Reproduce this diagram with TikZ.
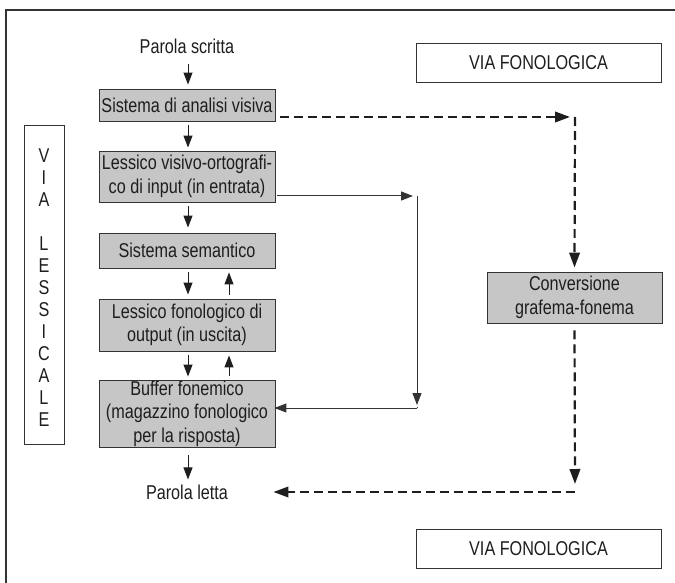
\documentclass[tikz,border=0pt]{standalone}
\usepackage{fontspec}
\setmainfont{Liberation Sans}[FakeStretch=0.81]
\usetikzlibrary{arrows.meta}
\definecolor{boxgray}{HTML}{C6C6C6}
\definecolor{ink}{HTML}{1E1E1E}
\definecolor{edge}{HTML}{333333}
\begin{document}
\begin{tikzpicture}[x=1pt,y=-1pt,
  every node/.style={text=ink,font=\fontsize{20}{23.5}\selectfont,inner sep=0pt},
  procbox/.style={draw=edge,line width=0.9pt,fill=boxgray,minimum width=176pt,align=center},
  labelbox/.style={draw=edge,line width=0.9pt,fill=white,align=center},
  tip/.style={-{Triangle[length=12pt,width=9pt]}},
  bigtip/.style={-{Triangle[length=15pt,width=10.5pt]}},
  arr/.style={tip,draw=ink,line width=1pt},
  solarr/.style={tip,draw=edge,line width=1pt},
  dasharr/.style={bigtip,draw=ink,line width=2.2pt,dash pattern=on 9pt off 5pt}]
\useasboundingbox (0,0) rectangle (675,583);

% frame (top and left edges)
\draw[edge,line width=1.2pt] (6,583) -- (6,10) -- (675,10);

% lexical route
\node (ps) at (187,46) {Parola scritta};
\node[procbox,minimum height=32pt] (b1) at (187,105) {Sistema di analisi visiva};
\node[procbox,minimum height=51pt] (b2) at (187,176.5) {Lessico visivo-ortografi-\\co di input (in entrata)};
\node[procbox,minimum height=35pt] (b3) at (187,250.5) {Sistema semantico};
\node[procbox,minimum height=52pt] (b4) at (187,325) {Lessico fonologico di\\output (in uscita)};
\node[procbox,minimum height=67pt] (b5) at (187,413.5) {Buffer fonemico\\(magazzino fonologico\\per la risposta)};
\node (pl) at (187,492) {Parola letta};

\node[labelbox,minimum width=40pt,minimum height=319pt] (vl) at (44,284.5) {};
\node[align=center,font=\fontsize{20}{22}\selectfont] (vlt) at (44,288)
  {V\\I\\A\\[22pt]L\\E\\S\\S\\I\\C\\A\\L\\E};

% phonological route
\node[labelbox,minimum width=245pt,minimum height=39pt] (vf1) at (538.5,62.5) {VIA FONOLOGICA};
\node[labelbox,minimum width=245pt,minimum height=39pt] (vf2) at (538.5,548.5) {VIA FONOLOGICA};
\node[procbox,minimum width=175pt,minimum height=51pt] (cg) at (574.5,297.5) {Conversione\\grafema-fonema};

% vertical arrows of the lexical chain
\draw[arr,shorten <=10pt,shorten >=4pt] ([xshift=1pt]ps.south) -- ([xshift=1pt]b1.north);
\draw[arr,shorten <=4pt,shorten >=3pt] ([xshift=1pt]b1.south) -- ([xshift=1pt]b2.north);
\draw[arr,shorten <=4pt,shorten >=5pt] ([xshift=1pt]b2.south) -- ([xshift=1pt]b3.north);
\draw[arr,shorten <=4pt,shorten >=4pt] ([xshift=1pt]b3.south) -- ([xshift=1pt]b4.north);
\draw[arr,shorten <=4pt,shorten >=4pt] ([xshift=42pt]b4.north) -- ([xshift=42pt]b3.south);
\draw[arr,shorten <=4pt,shorten >=3pt] ([xshift=1pt]b4.south) -- ([xshift=1pt]b5.north);
\draw[arr,shorten <=4pt,shorten >=4pt] ([xshift=42pt]b5.north) -- ([xshift=42pt]b4.south);
\draw[arr,shorten <=8pt,shorten >=5pt] ([xshift=1pt]b5.south) -- ([xshift=1pt]pl.north);

% direct link from the input lexicon to the phonemic buffer
\coordinate (c3) at (417,196);
\coordinate (c4) at (417,408);
\draw[solarr,shorten <=2pt,shorten >=4pt] ([yshift=-19.5pt]b2.east) -- (c3);
\draw[edge,line width=1pt] (c3) -- ++(0,1);
\draw[solarr,shorten >=3pt] (c3) -- (c4);
\draw[edge,line width=1pt] (c4) -- ++(0,-1);
\draw[solarr,shorten >=-1pt] (c4) -- (c4 -| b5.east);

% grapheme-phoneme conversion path
\coordinate (c1) at (575,117);
\coordinate (c2) at (575,492);
\draw[dasharr,shorten <=5pt,shorten >=5pt] ([yshift=-12pt]b1.east) -- (c1);
\draw[dasharr,shorten >=4pt] (c1) -- (cg.north);
\draw[dasharr,shorten <=7pt,shorten >=8pt] (cg.south) -- (c2);
\draw[dasharr,shorten >=-2pt] (c2) -- (c2 -| b5.east);
\end{tikzpicture}
\end{document}
